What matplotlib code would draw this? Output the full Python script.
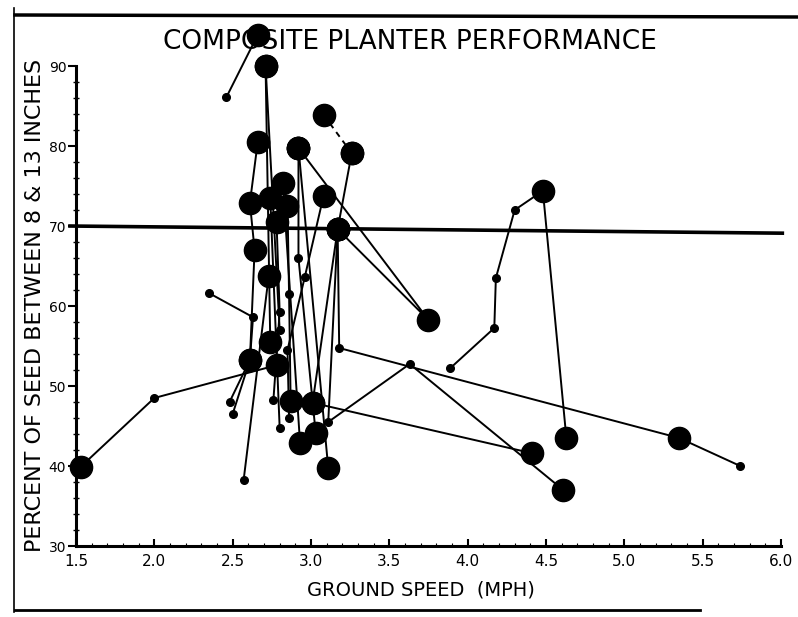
import matplotlib
matplotlib.use("Agg")
import matplotlib.pyplot as plt
from matplotlib.lines import Line2D
import numpy as np

plt.rcParams['font.family'] = ['DejaVu Sans']

title = "COMPOSITE PLANTER PERFORMANCE"
xlabel = "GROUND SPEED  (MPH)"
ylabel = "PERCENT OF SEED BETWEEN 8 & 13 INCHES"
xticks = [1.5, 2.0, 2.5, 3.0, 3.5, 4.0, 4.5, 5.0, 5.5, 6.0]
yticks = [30, 40, 50, 60, 70, 80, 90]
target_line = 70

# each series: speeds (x), percents (y), big-marker flags
s1_x = [1.53, 2.00, 2.78];             s1_y = [39.9, 48.5, 52.6];             s1_big = [1, 0, 1]
s2_x = [2.46, 2.66];                   s2_y = [86.1, 93.9];                   s2_big = [0, 1]
s3_x = [2.71, 2.74];                   s3_y = [90.0, 55.5];                   s3_big = [1, 1]
s4_x = [2.71, 2.80];                   s4_y = [90.0, 57.0];                   s4_big = [1, 0]
s5_x = [2.66, 2.61, 2.64, 2.61, 2.48]; s5_y = [80.5, 72.9, 67.0, 53.25, 48.0]; s5_big = [1, 1, 1, 1, 0]
s6_x = [2.35, 2.63, 2.61, 2.50];       s6_y = [61.6, 58.6, 53.25, 46.5];      s6_big = [0, 0, 1, 0]
s7_x = [3.08, 3.26];                   s7_y = [83.9, 79.1];                   s7_big = [1, 1]   # dashed
s8_x = [3.26, 3.17, 3.18, 5.35, 5.74]; s8_y = [79.1, 69.6, 54.75, 43.5, 40.0]; s8_big = [1, 1, 0, 1, 0]
s9_x = [2.92, 3.75, 3.17];             s9_y = [79.75, 58.25, 69.6];           s9_big = [1, 1, 1]
s10_x = [3.89, 4.17, 4.18, 4.30, 4.48, 4.63]
s10_y = [52.25, 57.25, 63.5, 72.0, 74.4, 43.5]
s10_big = [0, 0, 0, 0, 1, 1]
s11_x = [3.17, 3.11, 3.63, 4.61];      s11_y = [69.6, 45.5, 52.75, 37.0];     s11_big = [1, 0, 0, 1]
s12_x = [3.01, 4.41];                  s12_y = [47.9, 41.6];                  s12_big = [1, 1]
s13_x = [2.73, 2.57];                  s13_y = [63.75, 38.25];                s13_big = [1, 0]
s14_x = [2.82, 2.93];                  s14_y = [75.4, 42.9];                  s14_big = [1, 1]
s15_x = [3.08, 2.96, 2.85, 2.86];      s15_y = [73.75, 63.6, 54.5, 46.0];     s15_big = [1, 0, 0, 0]
s16_x = [2.85, 2.86, 2.87];            s16_y = [72.5, 61.5, 48.1];            s16_big = [1, 0, 1]
s17_x = [2.78, 2.80, 2.76];            s17_y = [70.5, 59.25, 48.25];          s17_big = [1, 0, 0]
s18_x = [2.74, 2.80];                  s18_y = [73.5, 44.75];                 s18_big = [1, 0]
s19_x = [2.92, 2.92, 3.03];            s19_y = [79.75, 66.0, 44.1];           s19_big = [1, 0, 1]
s20_x = [2.92, 3.11];                  s20_y = [79.75, 39.75];                s20_big = [1, 1]
s21_x = [3.17, 3.01];                  s21_y = [69.6, 47.9];                  s21_big = [1, 1]

series = [
    (s1_x, s1_y, s1_big, '-'), (s2_x, s2_y, s2_big, '-'), (s3_x, s3_y, s3_big, '-'),
    (s4_x, s4_y, s4_big, '-'), (s5_x, s5_y, s5_big, '-'), (s6_x, s6_y, s6_big, '-'),
    (s7_x, s7_y, s7_big, '--'), (s8_x, s8_y, s8_big, '-'), (s9_x, s9_y, s9_big, '-'),
    (s10_x, s10_y, s10_big, '-'), (s11_x, s11_y, s11_big, '-'), (s12_x, s12_y, s12_big, '-'),
    (s13_x, s13_y, s13_big, '-'), (s14_x, s14_y, s14_big, '-'), (s15_x, s15_y, s15_big, '-'),
    (s16_x, s16_y, s16_big, '-'), (s17_x, s17_y, s17_big, '-'), (s18_x, s18_y, s18_big, '-'),
    (s19_x, s19_y, s19_big, '-'), (s20_x, s20_y, s20_big, '-'), (s21_x, s21_y, s21_big, '-'),
]

W, H = 798, 617
fig = plt.figure(figsize=(W / 100, H / 100), dpi=100)
ax = fig.add_axes([76 / W, 1 - 546 / H, (781 - 76) / W, (546 - 66) / H])

# target line
ax.plot([1.45, 6.02], [target_line, target_line - 0.9], color='black', lw=2.6,
        solid_capstyle='butt', clip_on=False, zorder=2)

for xs, ys, big, ls in series:
    ax.plot(xs, ys, color='black', lw=1.4, ls=ls, dashes=(3, 2.5) if ls == '--' else (None, None),
            clip_on=False, zorder=3)
    xs = np.asarray(xs); ys = np.asarray(ys); big = np.asarray(big, bool)
    ax.plot(xs[big], ys[big], 'o', ms=16, color='black', mec='black', clip_on=False, zorder=4)
    ax.plot(xs[~big], ys[~big], 'o', ms=5.5, color='black', clip_on=False, zorder=4)

ax.set_xlim(1.5, 6.0)
ax.set_ylim(30, 90)
ax.set_xticks(xticks)
ax.set_xticklabels([f"{v:.1f}" for v in xticks], fontsize=11)
ax.set_yticks(yticks)
ax.set_yticklabels([str(v) for v in yticks], fontsize=10)
ax.set_yticks(np.arange(30, 91, 2), minor=True)
ax.set_xticks(np.arange(1.5, 6.01, 0.1), minor=True)
ax.tick_params(axis='y', which='major', direction='out', length=6, width=1.5, pad=1)
ax.tick_params(axis='y', which='minor', direction='inout', length=4, width=1)
ax.tick_params(axis='x', which='major', direction='in', length=5, width=1.5, pad=6)
ax.tick_params(axis='x', which='minor', direction='in', length=2, width=0.8)
for s in ['top', 'right']:
    ax.spines[s].set_visible(False)
for s in ['left', 'bottom']:
    ax.spines[s].set_linewidth(2.2)

fig.text(410 / W, 1 - 42 / H, title, ha='center', va='center', fontsize=19)
fig.text(421 / W, 1 - 590 / H, xlabel, ha='center', va='center', fontsize=14)
fig.text(35 / W, 1 - 305 / H, ylabel, ha='center', va='center', fontsize=16, rotation=90)

# scanned page frame
fig.add_artist(Line2D([14 / W, 14 / W], [1 - 8 / H, 1 - 612 / H], color='black', lw=1.2))
fig.add_artist(Line2D([15 / W, 1.0], [1 - 15 / H, 1 - 17 / H], color='black', lw=2.5))
fig.add_artist(Line2D([15 / W, 700 / W], [1 - 610 / H, 1 - 610 / H], color='black', lw=2.0))

fig.savefig("out.png", dpi=100)
